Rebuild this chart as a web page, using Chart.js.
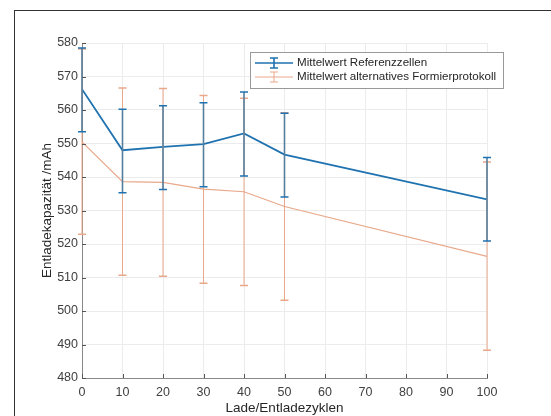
<!DOCTYPE html>
<html>
<head>
<meta charset="utf-8">
<script src="https://cdn.jsdelivr.net/npm/chart.js@4"></script>
<style>
  html, body { margin: 0; padding: 0; background: #fff; overflow: hidden; }
  #wrap { position: relative; width: 551px; height: 416px; }
  #frame { position: absolute; left: 14px; top: 10px; width: 560px; height: 420px;
           border: 1.5px solid #333; box-sizing: border-box; }
  canvas { position: absolute; left: 0; top: 0; }
</style>
</head>
<body>
<div id="wrap">
  <div id="frame"></div>
  <canvas id="chart" width="551" height="416"></canvas>
</div>
<script>
// Entladekapazität über Zyklen

const cycles = [0, 10, 20, 30, 40, 50, 100];

const refMean = [566.2, 548.0, 549.0, 549.8, 553.0, 546.7, 533.3];
const refHigh = [578.5, 560.2, 561.3, 562.2, 565.4, 559.0, 545.8];
const refLow  = [553.5, 535.3, 536.3, 537.1, 540.3, 534.0, 520.9];

const altMean = [550.5, 538.6, 538.4, 536.4, 535.6, 531.2, 516.3];
const altHigh = [578.2, 566.6, 566.4, 564.3, 563.5, 559.2, 544.5];
const altLow  = [522.9, 510.7, 510.4, 508.3, 507.6, 503.2, 488.3];

const blue = "#1f72b0";
const blueBar = "#557f9f";
const orange = "#e9a88a";
const fontFam = "'Liberation Sans', Arial, sans-serif";

function pts(ys) { return cycles.map((c, i) => ({ x: c, y: ys[i] })); }

const errorBars = {
    id: "errorBars",
    afterDatasetsDraw(chart) {
        const ctx = chart.ctx, xs = chart.scales.x, ys = chart.scales.y;
        const sets = [
            { lo: altLow, hi: altHigh, stem: orange, cap: orange, w: 1 },
            { lo: refLow, hi: refHigh, stem: blueBar, cap: blue, w: 1.6 }
        ];
        ctx.save();
        sets.forEach(s => {
            cycles.forEach((c, i) => {
                const px = xs.getPixelForValue(c);
                const a = ys.getPixelForValue(s.hi[i]), b = ys.getPixelForValue(s.lo[i]);
                ctx.strokeStyle = s.stem; ctx.lineWidth = s.w;
                ctx.beginPath(); ctx.moveTo(px, a); ctx.lineTo(px, b); ctx.stroke();
                ctx.strokeStyle = s.cap; ctx.lineWidth = 1.5;
                ctx.beginPath();
                ctx.moveTo(px - 4, a); ctx.lineTo(px + 4, a);
                ctx.moveTo(px - 4, b); ctx.lineTo(px + 4, b);
                ctx.stroke();
            });
        });
        ctx.restore();
    },
    afterDraw(chart) {
        const ctx = chart.ctx, area = chart.chartArea, xs = chart.scales.x, ys = chart.scales.y;
        ctx.save();
        // inward ticks
        ctx.strokeStyle = "#555"; ctx.lineWidth = 1;
        ctx.beginPath();
        xs.ticks.forEach(t => {
            const px = Math.round(xs.getPixelForValue(t.value)) + 0.5;
            ctx.moveTo(px, area.bottom); ctx.lineTo(px, area.bottom - 4);
        });
        ys.ticks.forEach(t => {
            const py = Math.round(ys.getPixelForValue(t.value)) + 0.5;
            ctx.moveTo(area.left, py); ctx.lineTo(area.left + 4, py);
        });
        ctx.stroke();

        // legend
        const lx = 250, ly = 52, lw = 253, lh = 36;
        ctx.fillStyle = "#fff";
        ctx.fillRect(lx, ly, lw, lh);
        ctx.strokeStyle = "#999"; ctx.lineWidth = 1;
        ctx.strokeRect(lx + 0.5, ly + 0.5, lw, lh);
        const items = [
            { text: "Mittelwert Referenzzellen", c: blue, w: 1.6 },
            { text: "Mittelwert alternatives Formierprotokoll", c: orange, w: 1 }
        ];
        ctx.font = "11.6px " + fontFam;
        ctx.textBaseline = "middle";
        items.forEach((it, i) => {
            const yy = ly + 11 + i * 14;
            const cx = lx + 24;
            ctx.strokeStyle = it.c; ctx.lineWidth = it.w;
            ctx.beginPath();
            ctx.moveTo(lx + 5, yy); ctx.lineTo(lx + 43, yy);
            ctx.moveTo(cx, yy - 5); ctx.lineTo(cx, yy + 5);
            ctx.moveTo(cx - 4, yy - 5); ctx.lineTo(cx + 4, yy - 5);
            ctx.moveTo(cx - 4, yy + 5); ctx.lineTo(cx + 4, yy + 5);
            ctx.stroke();
            ctx.fillStyle = "#262626";
            ctx.fillText(it.text, lx + 47, yy);
        });
        ctx.restore();
    }
};

new Chart(document.getElementById("chart"), {
    type: "line",
    data: {
        datasets: [
            { label: "Mittelwert Referenzzellen", data: pts(refMean), borderColor: blue,
              borderWidth: 1.8, pointRadius: 0, tension: 0 },
            { label: "Mittelwert alternatives Formierprotokoll", data: pts(altMean), borderColor: orange,
              borderWidth: 1.2, pointRadius: 0, tension: 0 }
        ]
    },
    options: {
        responsive: false,
        animation: false,
        layout: { padding: { left: 36, right: 64, top: 43, bottom: 0 } },
        plugins: { legend: { display: false }, tooltip: { enabled: false } },
        scales: {
            x: {
                type: "linear", min: 0, max: 100,
                ticks: { stepSize: 10, color: "#404040", padding: 7,
                         font: { family: fontFam, size: 12.5 } },
                grid: { color: "#ececec", drawTicks: false },
                border: { color: "#888" },
                title: { display: true, text: "Lade/Entladezyklen", color: "#262626", padding: { top: 2, bottom: 0 },
                         font: { family: fontFam, size: 13.5 } },
                afterFit(s) { s.height = 38; }
            },
            y: {
                min: 480, max: 580,
                ticks: { stepSize: 10, color: "#404040", padding: 4,
                         font: { family: fontFam, size: 12.5 } },
                grid: { color: "#ececec", drawTicks: false },
                border: { color: "#888" },
                title: { display: true, text: "Entladekapazität /mAh", color: "#262626", padding: { top: 3, bottom: 0 },
                         font: { family: fontFam, size: 13.5 } },
                afterFit(s) { s.width = 46; }
            }
        }
    },
    plugins: [errorBars]
});
</script>
</body>
</html>
